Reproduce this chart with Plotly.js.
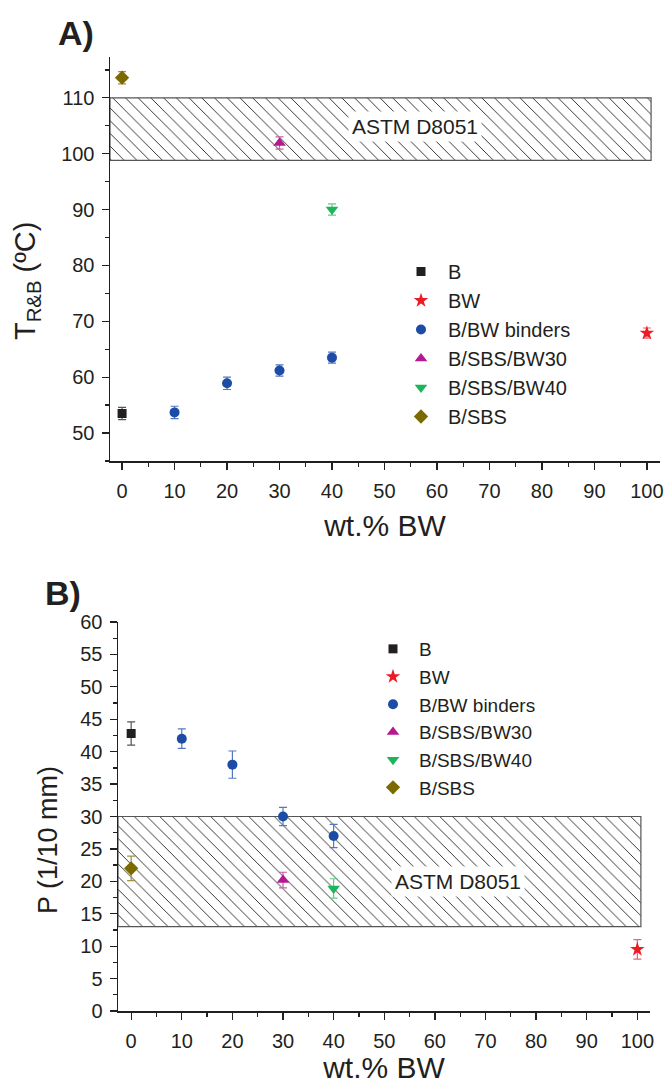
<!DOCTYPE html>
<html>
<head>
<meta charset="utf-8">
<script src="https://cdn.plot.ly/plotly-3.0.1.min.js"></script>
<style>html,body{margin:0;padding:0;background:#fff}#chart{width:667px;height:1084px}</style>
</head>
<body>
<div id="chart"></div>
<script>
// ---- data ----
const seriesNames = ["B", "BW", "B/BW binders", "B/SBS/BW30", "B/SBS/BW40", "B/SBS"];
const xB = [0];
const xBW = [100];
const xBinders = [10, 20, 30, 40];
const xSBS30 = [30];
const xSBS40 = [40];
const xSBS = [0];

// Panel A: T R&B (ºC)
const tB = [53.5],   tBErr = [1.1];
const tBW = [67.9],  tBWErr = [0.9];
const tBinders = [53.7, 58.9, 61.2, 63.5], tBindersErr = [1.1, 1.1, 1.0, 1.0];
const tSBS30 = [101.9], tSBS30Err = [1.1];
const tSBS40 = [90.0],  tSBS40Err = [1.0];
const tSBS = [113.6],   tSBSErr = [1.1];

// Panel B: P (1/10 mm)
const pB = [42.8],  pBErr = [1.8];
const pBW = [9.5],  pBWErr = [1.5];
const pBinders = [42.0, 38.0, 30.0, 27.0], pBindersErr = [1.5, 2.1, 1.4, 1.8];
const pSBS30 = [20.2], pSBS30Err = [1.2];
const pSBS40 = [18.9], pSBS40Err = [1.5];
const pSBS = [22.0],   pSBSErr = [1.9];

// ASTM D8051 specification bands
const astmLabel = "ASTM D8051";
const astmTRange = [98.8, 110];
const astmPRange = [13, 30];
const astmXA = [-2.3, 100.8];
const astmXB = [-2.6, 100.7];

const xTicks = [0, 10, 20, 30, 40, 50, 60, 70, 80, 90, 100];

// ---- styles ----
const colors = ["#231f20", "#ed1c24", "#1c4ca5", "#b5188f", "#1db45a", "#7a6a00"];
const symbols = ["square", "star", "circle", "triangle-up", "triangle-down", "diamond"];
const sizes = [9, 11, 10, 11, 11, 11];
const errColors = ["#555", "#f06070", "#5577c0", "#c860a8", "#60cc88", "#a09040"];

function band(xr, yr, xa, ya) {
  return {
    type: "scatter", mode: "lines",
    x: [xr[0], xr[1], xr[1], xr[0], xr[0]],
    y: [yr[0], yr[0], yr[1], yr[1], yr[0]],
    xaxis: xa, yaxis: ya,
    fill: "toself",
    fillcolor: "rgba(0,0,0,0)",
    fillpattern: {shape: "\\", fgcolor: "#222", bgcolor: "white", size: 9, solidity: 0.1},
    line: {color: "#555", width: 1.2},
    showlegend: false, hoverinfo: "skip"
  };
}

function pts(i, x, y, e, xa, ya, leg) {
  return {
    type: "scatter", mode: "markers",
    name: seriesNames[i], x: x, y: y,
    xaxis: xa, yaxis: ya, legend: leg, legendgroup: leg + i,
    marker: {symbol: symbols[i], size: sizes[i], color: colors[i], line: {width: 0}},
    error_y: {type: "data", array: e, visible: true, color: errColors[i], thickness: 1.2, width: 4}
  };
}

const dataA = [[xB, tB, tBErr], [xBW, tBW, tBWErr], [xBinders, tBinders, tBindersErr],
               [xSBS30, tSBS30, tSBS30Err], [xSBS40, tSBS40, tSBS40Err], [xSBS, tSBS, tSBSErr]];
const dataB = [[xB, pB, pBErr], [xBW, pBW, pBWErr], [xBinders, pBinders, pBindersErr],
               [xSBS30, pSBS30, pSBS30Err], [xSBS40, pSBS40, pSBS40Err], [xSBS, pSBS, pSBSErr]];

const traces = [band(astmXA, astmTRange, "x", "y"), band(astmXB, astmPRange, "x2", "y2")];
dataA.forEach((d, i) => traces.push(pts(i, d[0], d[1], d[2], "x", "y", "legend")));
dataB.forEach((d, i) => traces.push(pts(i, d[0], d[1], d[2], "x2", "y2", "legend2")));

const FONT = "Liberation Sans, Arial, sans-serif";
const INK = "#231f20";
const tickFont = {family: FONT, size: 20, color: INK};
const axisCommon = {
  showline: true, linecolor: INK, linewidth: 1.5,
  ticks: "outside", ticklen: 7, tickwidth: 1.3, tickcolor: INK,
  showgrid: false, zeroline: false, tickfont: tickFont, mirror: false
};

const layout = {
  width: 667, height: 1084,
  margin: {l: 0, r: 0, t: 0, b: 0},
  paper_bgcolor: "white", plot_bgcolor: "white",
  font: {family: FONT, color: INK},
  xaxis: Object.assign({}, axisCommon, {
    domain: [110/667, 660/667], range: [-2.3, 102.5], anchor: "y",
    tickvals: xTicks, ticklabelstandoff: 4,
    minor: {ticks: "outside", ticklen: 4, dtick: 5, tick0: 0, tickcolor: INK},
    title: {text: "wt.% BW", font: {family: FONT, size: 30, color: INK}, standoff: 14}
  }),
  yaxis: Object.assign({}, axisCommon, {
    domain: [1 - 461/1084, 1 - 57/1084], range: [45, 117.3], anchor: "x",
    dtick: 10, tick0: 0, ticklabelstandoff: 3,
    minor: {ticks: "outside", ticklen: 4, dtick: 5, tick0: 0, tickcolor: INK}
  }),
  xaxis2: Object.assign({}, axisCommon, {
    domain: [118/667, 650/667], range: [-2.6, 102.5], anchor: "y2",
    tickvals: xTicks, ticklabelstandoff: 4,
    minor: {ticks: "outside", ticklen: 4, dtick: 5, tick0: 0, tickcolor: INK},
    title: {text: "wt.% BW", font: {family: FONT, size: 30, color: INK}, standoff: 19}
  }),
  yaxis2: Object.assign({}, axisCommon, {
    domain: [1 - 1011/1084, 1 - 622/1084], range: [0, 60], anchor: "x2",
    dtick: 5, tick0: 0, ticklabelstandoff: 3,
    minor: {ticks: "outside", ticklen: 4, dtick: 2.5, tick0: 0, tickcolor: INK}
  }),
  legend: {
    x: 394/667, y: 1 - 252/1084, xanchor: "left", yanchor: "top",
    font: {family: FONT, size: 20, color: INK}, itemwidth: 44,
    bgcolor: "rgba(0,0,0,0)", traceorder: "grouped", tracegroupgap: 0
  },
  legend2: {
    x: 367/667, y: 1 - 630/1084, xanchor: "left", yanchor: "top",
    font: {family: FONT, size: 19, color: INK}, itemwidth: 42,
    bgcolor: "rgba(0,0,0,0)", traceorder: "grouped", tracegroupgap: 0
  },
  annotations: [
    {text: "<b>A)</b>", xref: "paper", yref: "paper", x: 76/667, y: 1 - 33/1084,
     xanchor: "center", yanchor: "middle",
     showarrow: false, font: {family: FONT, size: 34, color: INK}},
    {text: "<b>B)</b>", xref: "paper", yref: "paper", x: 63/667, y: 1 - 593/1084,
     xanchor: "center", yanchor: "middle",
     showarrow: false, font: {family: FONT, size: 34, color: INK}},
    {text: "T<sub>R&amp;B</sub> (ºC)", xref: "paper", yref: "paper", x: 27/667, y: 1 - 281/1084,
     xanchor: "center", yanchor: "middle",
     textangle: -90, showarrow: false, font: {family: FONT, size: 29, color: INK}},
    {text: "P (1/10 mm)", xref: "paper", yref: "paper", x: 48/667, y: 1 - 840/1084,
     xanchor: "center", yanchor: "middle",
     textangle: -90, showarrow: false, font: {family: FONT, size: 27, color: INK}},
    {text: astmLabel, xref: "x", yref: "y", x: 55.8, y: 104.8, showarrow: false,
     bgcolor: "white", borderpad: 3, font: {family: FONT, size: 21, color: INK}},
    {text: astmLabel, xref: "x2", yref: "y2", x: 64.6, y: 20.0, showarrow: false,
     bgcolor: "white", borderpad: 3, font: {family: FONT, size: 21, color: INK}}
  ]
};

Plotly.newPlot("chart", traces, layout, {staticPlot: true, displayModeBar: false});
</script>
</body>
</html>
